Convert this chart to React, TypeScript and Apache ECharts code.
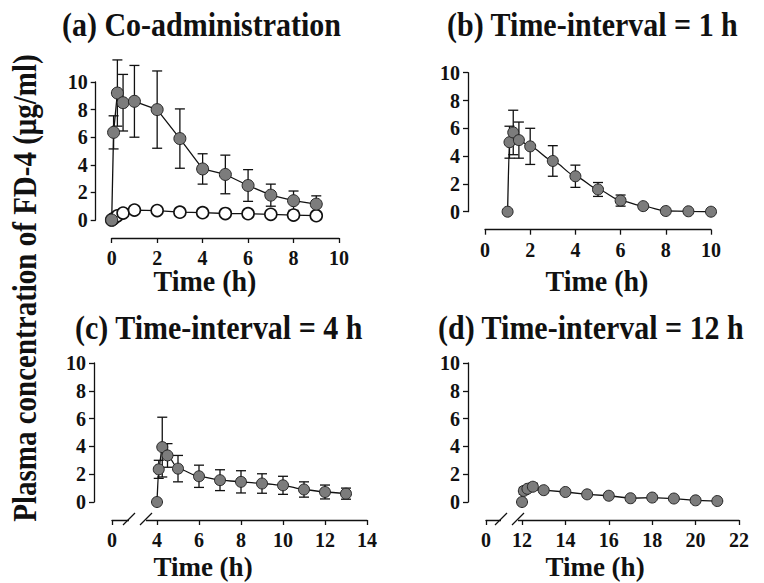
import React, { useEffect, useRef } from "react";
import * as echarts from "echarts";

// ---- data ----
const timeA = [0, 0.083, 0.25, 0.5, 1, 2, 3, 4, 5, 6, 7, 8, 9];
const coMean = [0, 6.35, 9.2, 8.5, 8.6, 8.0, 5.9, 3.7, 3.3, 2.5, 1.8, 1.4, 1.15];
const coSD = [0, 1.2, 2.4, 2.05, 2.6, 2.8, 2.15, 1.1, 1.4, 1.15, 0.8, 0.7, 0.6];
const aloneMean = [0, 0.1, 0.3, 0.5, 0.72, 0.68, 0.57, 0.53, 0.47, 0.46, 0.41, 0.36, 0.31];

const timeB = [1, 1.083, 1.25, 1.5, 2, 3, 4, 5, 6, 7, 8, 9, 10];
const meanB = [0, 5.0, 5.7, 5.15, 4.7, 3.65, 2.55, 1.6, 0.8, 0.4, 0.05, 0.03, 0];
const sdB = [0, 1.15, 1.6, 1.3, 1.3, 1.1, 0.8, 0.5, 0.4, 0.15, 0.05, 0.03, 0];

const timeC = [4, 4.083, 4.25, 4.5, 5, 6, 7, 8, 9, 10, 11, 12, 13];
const meanC = [0, 2.35, 3.95, 3.35, 2.4, 1.85, 1.57, 1.45, 1.33, 1.2, 0.9, 0.72, 0.6];
const sdC = [0, 0.65, 2.15, 0.85, 0.95, 0.8, 0.75, 0.8, 0.7, 0.65, 0.55, 0.5, 0.4];

const timeD = [12, 12.083, 12.25, 12.5, 13, 14, 15, 16, 17, 18, 19, 20, 21];
const meanD = [0, 0.8, 0.95, 1.1, 0.85, 0.72, 0.55, 0.45, 0.27, 0.32, 0.25, 0.12, 0.07];
const sdD = [0, 0.25, 0.2, 0.25, 0.15, 0.1, 0.08, 0.08, 0.06, 0.06, 0.05, 0.04, 0.03];

const xBreakC = 1.857; // position where the "0" label sits on the broken axis (c)
const xBreakD = 10.34; // same for (d)
const xTicksC = [xBreakC, 4, 6, 8, 10, 12, 14];
const xTicksD = [xBreakD, 12, 14, 16, 18, 20, 22];

const titles = [
  "(a) Co-administration",
  "(b) Time-interval = 1 h",
  "(c) Time-interval = 4 h",
  "(d) Time-interval = 12 h",
];
const xTitle = "Time (h)";
const yTitle = "Plasma concentration of FD-4 (\u03bcg/ml)";

const FONT = "Liberation Serif, Times New Roman, serif";
const INK = "#111";
const FILL = "#7c7c7c";

export default function App() {
  const ref = useRef<HTMLDivElement>(null);

  useEffect(() => {
    if (!ref.current) return;
    const chart = echarts.init(ref.current, null, { renderer: "svg" });

    const grids = [
      { left: 111.7, top: 82, width: 227.3, height: 138 },
      { left: 485, top: 72.7, width: 226, height: 139 },
      { left: 112, top: 363, width: 255, height: 139 },
      { left: 486, top: 363, width: 253, height: 139 },
    ];
    const yOffsets = [16, 17, 18, 18];

    const labelStyle = {
      fontFamily: FONT,
      fontWeight: "bold" as const,
      fontSize: 20,
      color: INK,
    };

    const xAxes = [
      { min: 0, max: 10, interval: 2 },
      { min: 0, max: 10, interval: 2 },
      { min: xBreakC, max: 14, custom: xTicksC, brk: 3 },
      { min: xBreakD, max: 22, custom: xTicksD, brk: 11 },
    ].map((a: any, i) => {
      const base: any = {
        type: "value",
        gridIndex: i,
        position: "bottom",
        min: a.min,
        max: a.max,
        offset: 18,
        splitLine: { show: false },
        axisLine: { show: true, onZero: false, lineStyle: { color: INK, width: 1.3 } },
        axisTick: { show: true, length: 5, inside: false, lineStyle: { color: INK, width: 1.3 } },
        axisLabel: { ...labelStyle, margin: 10 },
      };
      if (a.interval) {
        base.interval = a.interval;
      } else {
        base.axisTick.customValues = a.custom;
        base.axisLabel.customValues = a.custom;
        base.axisLabel.formatter = (v: number) => (v < a.brk ? "0" : String(Math.round(v)));
      }
      return base;
    });

    const yAxes = grids.map((_, i) => ({
      type: "value",
      gridIndex: i,
      position: "left",
      min: 0,
      max: 10,
      interval: 2,
      offset: yOffsets[i],
      splitLine: { show: false },
      axisLine: { show: true, onZero: false, lineStyle: { color: INK, width: 1.3 } },
      axisTick: { show: true, length: 5, lineStyle: { color: INK, width: 1.3 } },
      axisLabel: { ...labelStyle, margin: 8 },
    }));

    const errorBars = (idx: number, t: number[], m: number[], s: number[]) => ({
      type: "custom",
      xAxisIndex: idx,
      yAxisIndex: idx,
      clip: false,
      z: 1,
      data: t.map((x, i) => [x, m[i], s[i]]),
      renderItem: (_p: any, api: any) => {
        const x = api.value(0);
        const mv = api.value(1);
        const sv = api.value(2);
        if (!sv) return null;
        const top = api.coord([x, mv + sv]);
        const bot = api.coord([x, mv - sv]);
        const hw = 5;
        const ls = { stroke: INK, lineWidth: 1.3 };
        return {
          type: "group",
          children: [
            { type: "line", shape: { x1: top[0], y1: top[1], x2: bot[0], y2: bot[1] }, style: ls },
            { type: "line", shape: { x1: top[0] - hw, y1: top[1], x2: top[0] + hw, y2: top[1] }, style: ls },
            { type: "line", shape: { x1: bot[0] - hw, y1: bot[1], x2: bot[0] + hw, y2: bot[1] }, style: ls },
          ],
        };
      },
    });

    const filledLine = (idx: number, t: number[], m: number[], size: number, smooth: boolean) => ({
      type: "line",
      xAxisIndex: idx,
      yAxisIndex: idx,
      clip: false,
      z: 3,
      data: t.map((x, i) => [x, m[i]]),
      symbol: "circle",
      symbolSize: size,
      showAllSymbol: true,
      smooth: smooth ? 0.25 : false,
      smoothMonotone: "x",
      lineStyle: { color: INK, width: 1.3 },
      itemStyle: { color: FILL, borderColor: "#262626", borderWidth: 1 },
    });

    const series: any[] = [
      errorBars(0, timeA, coMean, coSD),
      {
        type: "line",
        xAxisIndex: 0,
        yAxisIndex: 0,
        clip: false,
        z: 2,
        data: timeA.map((x, i) => [x, aloneMean[i]]),
        symbol: "circle",
        symbolSize: 12,
        showAllSymbol: true,
        lineStyle: { color: INK, width: 1.3 },
        itemStyle: { color: "#ffffff", borderColor: INK, borderWidth: 1.6 },
      },
      filledLine(0, timeA, coMean, 12, false),
      errorBars(1, timeB, meanB, sdB),
      filledLine(1, timeB, meanB, 11, true),
      errorBars(2, timeC, meanC, sdC),
      filledLine(2, timeC, meanC, 11, true),
      errorBars(3, timeD, meanD, sdD),
      filledLine(3, timeD, meanD, 11, false),
    ];

    const txt = (text: string, x: number, y: number, size: number, align: string, sy = 1, rot = 0) => ({
      type: "text",
      x,
      y,
      rotation: rot,
      scaleY: sy,
      z: 10,
      style: {
        text,
        fontFamily: FONT,
        fontWeight: "bold",
        fontSize: size,
        fill: INK,
        align,
        verticalAlign: "middle",
        textAlign: align,
        textVerticalAlign: "middle",
      },
    });

    const breakMarks = (gapL: number, gapR: number, s1: number, s2: number) => [
      { type: "rect", z: 5, shape: { x: gapL, y: 516, width: gapR - gapL, height: 8 }, style: { fill: "#ffffff" } },
      { type: "line", z: 6, shape: { x1: s1, y1: 525, x2: s1 + 12, y2: 513 }, style: { stroke: INK, lineWidth: 1.3 } },
      { type: "line", z: 6, shape: { x1: s2, y1: 525, x2: s2 + 12, y2: 513 }, style: { stroke: INK, lineWidth: 1.3 } },
    ];

    const graphic: any[] = [
      txt(titles[0], 62, 25, 30, "left", 1.1),
      txt(titles[1], 447, 25, 30, "left", 1.1),
      txt(titles[2], 75, 328, 30, "left", 1.1),
      txt(titles[3], 438, 328, 30, "left", 1.1),
      txt(xTitle, 205, 281, 28, "center", 1.05),
      txt(xTitle, 597, 281, 28, "center", 1.05),
      txt(xTitle, 203, 567, 27, "center", 1.0),
      txt(xTitle, 595, 567, 27, "center", 1.0),
      txt(yTitle, 25, 288, 29, "center", 1.15, Math.PI / 2),
      ...breakMarks(129, 146, 123, 140),
      ...breakMarks(501, 518, 495, 512),
    ];

    chart.setOption({
      animation: false,
      backgroundColor: "#ffffff",
      grid: grids,
      xAxis: xAxes,
      yAxis: yAxes,
      series,
      graphic,
    });

    return () => chart.dispose();
  }, []);

  return (
    <div
      ref={ref}
      style={{ position: "absolute", left: 0, top: 0, width: 764, height: 583, background: "#fff" }}
    />
  );
}
